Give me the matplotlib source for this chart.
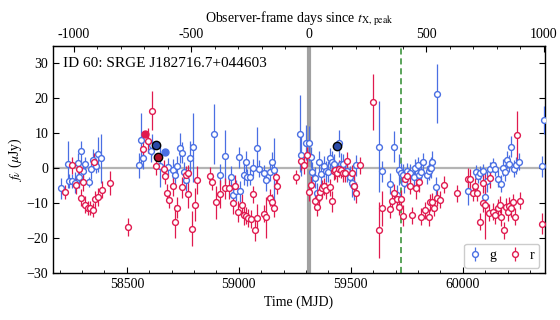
import numpy as np
import matplotlib
matplotlib.use("Agg")
import matplotlib.pyplot as plt
from matplotlib.ticker import MultipleLocator, FixedLocator, FuncFormatter

plt.rcParams['font.family'] = 'serif'
plt.rcParams['font.serif'] = ['Liberation Serif', 'DejaVu Serif']
plt.rcParams['mathtext.fontset'] = 'stix'

# ---------------- data ----------------
g_mjd = [58204, 58235, 58242, 58256, 58269, 58280, 58286, 58293, 58306, 58315, 58329, 58338, 58347, 58364, 58373, 58384,
         58556, 58565, 58574, 58606, 58614, 58650, 58684, 58704, 58717, 58726, 58735, 58744, 58753, 58766, 58784, 58797,
         58891, 58914, 58940, 58963, 58976, 58989, 59000, 59007, 59021, 59030, 59038, 59052, 59065, 59079, 59092, 59114,
         59123, 59137, 59150, 59155,
         59274, 59278, 59300, 59311, 59320, 59326, 59338, 59351, 59360, 59366, 59378, 59388, 59400, 59409, 59418, 59427,
         59449, 59458, 59467, 59485, 59498, 59507, 59516, 59521, 59625, 59641, 59677, 59692, 59704, 59717, 59726, 59735,
         59739, 59753, 59766, 59780, 59788, 59802, 59806, 59815, 59824, 59842, 59847, 59855, 59860, 59864, 59882, 59887,
         60021, 60061, 60070, 60079, 60088, 60097, 60110, 60123, 60137, 60146, 60155, 60172, 60181, 60190, 60199, 60208,
         60217, 60230, 60239, 60253, 60355, 60364]
g_flux = [-5.9, 1.0, -3.8, -3.8, -4.3, 1.3, -2.7, 4.7, -1.0, 1.0, -4.1, -0.2, 2.4, 0.4, 3.9, 2.7,
          0.7, 8.1, 2.7, 4.7, 6.7, 0.5, 0.3, -0.5, -1.9, 0.4, 5.8, 4.4, -1.2, -3.6, 2.7, 5.9,
          9.6, -1.9, 3.3, -2.5, -7.9, -6.5, 3.0, -6.7, -1.9, 1.8, -2.7, -2.5, 0.1, 5.8, -0.2, -1.6,
          -3.6, -1.3, 1.6, -0.5,
          9.8, 3.8, 7.2, 7.0, 3.0, -1.2, -2.8, -7.3, 1.8, -1.8, 0.4, -1.0, -1.1, 2.7, 1.8, 1.0,
          7.0, 1.2, 1.0, -1.0, -2.5, -4.3, -5.1, 0.7, 6.1, -1.0, -4.5, 6.1, -7.9, -0.5, -1.6, -1.9,
          -4.2, -1.0, -1.4, -2.5, 0.1, 0.7, -2.1, -1.2, 1.8, -2.0, -1.0, 0.1, 0.1, 1.8, -5.6, 21.3,
          -6.5, -1.3, -2.2, -1.6, -1.0, -8.4, -3.8, -0.2, 0.7, -0.2, -3.1, -4.5, 0.1, -1.3, 2.4, 1.2,
          6.1, -0.2, 0.7, 1.8, 0.4, 13.6]
g_err = [3, 6.7, 2, 2, 3, 3, 3, 3, 2, 2, 1.5, 3, 3, 2, 5, 7,
         3.5, 7.6, 3, 3, 3, 6, 2.5, 3, 3, 3, 4.3, 3, 3, 3, 5, 9.8,
         8.6, 3, 7.6, 3, 3, 3, 3, 3, 3, 3, 2.5, 2.5, 2.5, 6, 2.5, 2.5,
         3, 2.5, 3, 9,
         11, 6, 5, 5, 3, 3, 3, 3, 3, 3, 3, 3, 3, 3, 3, 3,
         4, 3, 3, 3, 3, 4, 4, 3, 13, 3, 3, 4.5, 3, 4.5, 3, 3,
         3, 2.5, 2.5, 3, 2.5, 2.5, 2.5, 2.5, 2.5, 2.5, 2.5, 2.5, 3, 3, 3, 8.5,
         4, 2, 2, 2, 2, 3, 3, 2, 2, 2, 2.5, 2.5, 2.5, 2.5, 2.5, 2.5,
         3, 2.5, 2.5, 2.5, 3, 4]

r_mjd = [58222, 58253, 58271, 58286, 58295, 58303, 58315, 58326, 58335, 58347, 58351, 58358, 58373, 58388, 58424, 58507,
         58573, 58594, 58614, 58628, 58664, 58672, 58681, 58690, 58704, 58713, 58722, 58744, 58766, 58771, 58775, 58789,
         58802, 58811, 58869, 58882, 58896, 58914, 58940, 58954, 58972, 58985, 58998, 59012, 59021, 59034, 59043, 59056,
         59065, 59074, 59079, 59114, 59123, 59137, 59146, 59155, 59168, 59172, 59253, 59276,
         59292, 59306, 59315, 59324, 59338, 59347, 59356, 59364, 59373, 59382, 59391, 59405, 59414, 59423, 59431, 59440,
         59449, 59458, 59467, 59476, 59485, 59503, 59516, 59525, 59543, 59601, 59628, 59641, 59677, 59686, 59695, 59704,
         59717, 59726, 59735, 59744, 59753, 59766, 59775, 59793, 59806, 59815, 59829, 59847, 59855, 59864, 59873, 59887,
         59896, 59914, 59972, 60021, 60034, 60047, 60056, 60065, 60079, 60088, 60092, 60101, 60119, 60123, 60137, 60146,
         60155, 60164, 60172, 60186, 60195, 60204, 60208, 60217, 60226, 60235, 60244, 60257, 60355]
r_flux = [-7.0, 0.7, -5.0, -0.2, -8.5, -4.0, -10.5, -11.5, -11.6, -12.2, 1.8, -9.0, -8.4, -6.2, -4.4, -17.0,
          5.3, 7.8, 16.4, 0.4, -0.2, -2.2, -7.1, -9.1, -5.1, -15.4, -11.4, -5.6, -1.9, -1.6, -7.6, -17.4,
          -10.5, -3.6, -2.2, -3.9, -9.9, -7.6, -5.9, -5.9, -10.2, -5.1, -12.5, -10.5, -13.4, -13.7, -14.3, -14.6,
          -7.6, -17.9, -14.4, -13.1, -14.2, -8.5, -9.9, -11.5, -2.5, -5.1, -2.5, 1.9,
          0.8, 3.6, -7.0, -4.8, -9.5, -11.3, -8.2, -7.0, -5.9, -5.3, -6.4, -5.6, -9.5, -1.0, -0.7, -1.4,
          -0.2, -0.5, -1.6, -1.6, 2.1, -1.6, -5.1, -7.1, 0.7, 19.0, -17.7, -11.6, -11.8, -9.6, -7.1, -9.0,
          -11.1, -8.8, -13.7, -3.1, -2.4, -5.1, -13.6, -5.9, -3.9, -14.0, -12.2, -14.2, -9.9, -9.8, -11.4, -8.5,
          -9.1, -4.8, -7.3, -3.1, -3.3, -7.1, -5.3, -7.1, -15.4, -10.2, -4.2, -10.5, -12.8, -2.8, -12.5, -13.6,
          -11.4, -10.5, -14.2, -17.9, -11.1, -12.6, -10.8, -11.6, -9.9, -14.0, 9.3, -9.4, -16.0]
r_err = [2, 2.5, 2.5, 2.5, 2.5, 2.5, 2.5, 2, 2, 2, 2.5, 2.5, 2.5, 2.5, 3.5, 2.5,
         3, 3.5, 5.5, 2.5, 2.5, 2.5, 2.5, 2.5, 3, 4.8, 3, 3, 2.5, 2.5, 4, 5,
         4.8, 4, 2.5, 2.5, 4.8, 4, 3, 3, 3, 3, 3, 3, 3, 2.5, 2.5, 2.5,
         2.5, 3, 4, 2.5, 6, 2.5, 2.5, 2.5, 2.5, 2.5, 2, 2.5,
         2.5, 2.5, 2.5, 2.5, 2.5, 2.5, 2.5, 2.5, 2.5, 2.5, 2.5, 2.5, 3, 2.5, 2.5, 2.5,
         2.5, 2.5, 2.5, 2.5, 2.5, 2.5, 3, 3, 2.5, 8, 8, 5, 2.5, 2.5, 2.5, 2.5,
         2.5, 2.5, 3, 2.5, 2.5, 2.5, 2.5, 3, 3, 2.5, 2.5, 2.5, 2.5, 2.5, 2.5, 2.5,
         2.5, 2.5, 2.5, 3, 3, 2.5, 2.5, 2.5, 2.5, 2.5, 3, 10, 2.5, 3, 2.5, 2.5,
         2.5, 2.5, 2.5, 2.5, 2.5, 2.5, 2.5, 2.5, 2.5, 2.5, 7, 2.5, 3]

# highlighted (filled) detections
fr_mjd, fr_flux = [58583], [9.8]
fg_mjd, fg_flux = [58668], [4.5]
bg_mjd, bg_flux = [58632, 59440], [6.5, 6.2]
br_mjd, br_flux = [58641], [3.0]

top_ticks = [-1000, -500, 0, 500, 1000]

T0 = 59312.0          # t_X,peak (MJD)
T_DASH = 59726.0
SCALE = 1.049
XLIM = (58170, 60367)
YLIM = (-30.2, 35)

G_COL = '#4a6fe3'
R_COL = '#e01a4f'

# ---------------- figure ----------------
fig = plt.figure(figsize=(5.6, 3.2), dpi=100)
ax = fig.add_axes([0.0946, 0.146, 0.8786, 0.711])

ax.axvline(T0, color='#a0a0a0', lw=3, zorder=1)
ax.axhline(0, color='#b4b4b4', lw=1.6, zorder=1)
ax.axvline(T_DASH, color='#2e8b2e', lw=1.1, ls=(0, (4, 2.5)), zorder=1)

eg = ax.errorbar(g_mjd, g_flux, yerr=g_err, fmt='o', ms=4.2, mfc='white', mec=G_COL, mew=1.0,
                 ecolor=G_COL, elinewidth=0.9, capsize=0, label='g', zorder=3)
er = ax.errorbar(r_mjd, r_flux, yerr=r_err, fmt='o', ms=4.2, mfc='white', mec=R_COL, mew=1.0,
                 ecolor=R_COL, elinewidth=0.9, capsize=0, label='r', zorder=3)

ax.plot(fr_mjd, fr_flux, 'o', ms=5, color=R_COL, zorder=4)
ax.plot(fg_mjd, fg_flux, 'o', ms=5, color=G_COL, zorder=4)
ax.plot(bg_mjd, bg_flux, 'o', ms=6, mfc='#2a4aa8', mec='black', mew=1.0, zorder=5)
ax.plot(br_mjd, br_flux, 'o', ms=6, mfc='#b0102a', mec='black', mew=1.0, zorder=5)

ax.set_xlim(*XLIM)
ax.set_ylim(*YLIM)
ax.xaxis.set_major_locator(MultipleLocator(500))
ax.xaxis.set_minor_locator(MultipleLocator(100))
ax.yaxis.set_major_locator(MultipleLocator(10))
ax.tick_params(axis='both', which='both', direction='in', labelsize=10)
ax.tick_params(axis='y', which='major', right=True, length=4)
ax.tick_params(axis='x', which='major', length=4)
ax.tick_params(axis='x', which='minor', length=2.5)
for s in ax.spines.values():
    s.set_linewidth(1.0)

ax.set_xlabel('Time (MJD)', fontsize=10, labelpad=3)
ax.set_ylabel(r'$f_\nu$ ($\mu$Jy)', fontsize=10, labelpad=2)

sec = ax.secondary_xaxis('top', functions=(lambda m: (m - T0) / SCALE, lambda d: d * SCALE + T0))
sec.xaxis.set_major_locator(FixedLocator(top_ticks))
sec.xaxis.set_minor_locator(FixedLocator([v for v in range(-1100, 1001, 100) if v not in top_ticks]))
sec.xaxis.set_major_formatter(FuncFormatter(lambda v, p: f"{v:.0f}"))
sec.tick_params(axis='x', which='both', direction='in', labelsize=10)
sec.tick_params(axis='x', which='major', length=4)
sec.tick_params(axis='x', which='minor', length=2.5)
sec.set_xlabel(r'Observer-frame days since $t_{\rm X,\,peak}$', fontsize=10, labelpad=4)

ax.text(0.02, 0.95, 'ID 60: SRGE J182716.7+044603', transform=ax.transAxes,
        fontsize=11, ha='left', va='top')

leg = ax.legend(handles=[eg, er], loc='lower right', ncol=2, fontsize=10, handlelength=0.8,
                columnspacing=1.0, handletextpad=0.6, borderpad=0.4, framealpha=1,
                edgecolor='#cccccc', fancybox=True, borderaxespad=0.4)

fig.savefig('out.png', dpi=100)
